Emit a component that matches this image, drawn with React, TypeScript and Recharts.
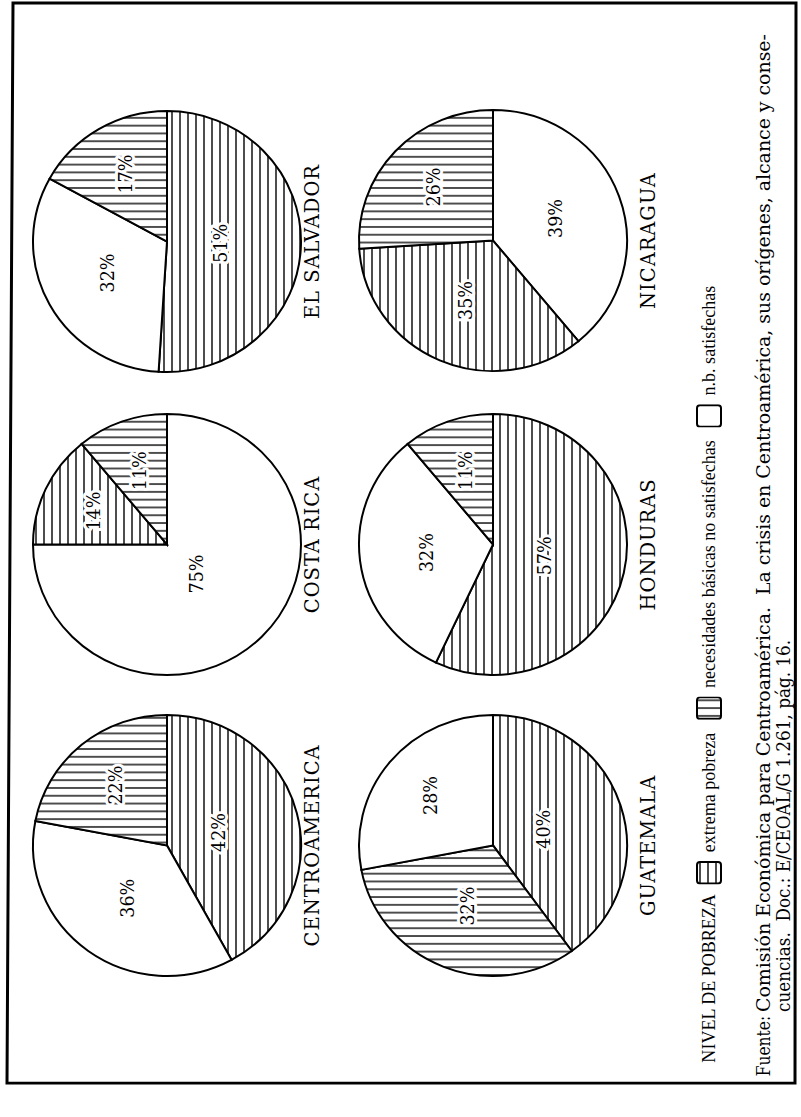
import React from 'react';
import { PieChart, Pie, Cell, Legend } from 'recharts';

// Landscape page (drawn upright, then turned -90deg to match the scanned sheet)
const W = 1117;
const H = 801;
const SQUEEZE = 0.974; // the scan is slightly compressed along its long side

// ---------- data ----------
const countries = ['CENTROAMERICA', 'COSTA RICA', 'EL SALVADOR', 'GUATEMALA', 'HONDURAS', 'NICARAGUA'];
const extremaPobreza = [42, 14, 51, 40, 57, 35];
const nbNoSatisfechas = [22, 11, 17, 32, 11, 26];
const nbSatisfechas = [36, 75, 32, 28, 32, 39];
// clockwise order of the slices from the 12 o'clock position of each pie
const sliceOrder: string[][] = [
  ['ext', 'sat', 'nbi'],
  ['sat', 'ext', 'nbi'],
  ['ext', 'sat', 'nbi'],
  ['ext', 'nbi', 'sat'],
  ['ext', 'sat', 'nbi'],
  ['sat', 'ext', 'nbi'],
];
const legendTitle = 'NIVEL DE POBREZA';
const legendKeys = ['ext', 'nbi', 'sat'];
const legendLabels = ['extrema pobreza', 'necesidades básicas no satisfechas', 'n.b. satisfechas'];
const sourceLead = 'Fuente:';
const sourceLine1 = 'Comisión Económica para Centroamérica.  La crisis en Centroamérica, sus orígenes, alcance y conse-';
const sourceLine2 = 'cuencias.  Doc.: E/CEOAL/G 1.261, pág. 16.';

// ---------- layout / style ----------
const FONT = '"DejaVu Serif", "Liberation Serif", serif';
const LEGEND_FONT = '"Liberation Serif", "DejaVu Serif", serif';
const R = 134;
const pieCenters: number[][] = [
  [249, 167], [558, 167], [869, 167],
  [249, 493], [558, 493], [870, 493],
];
const titleBaselines = [319, 319, 319, 655, 655, 655];
const fills: Record<string, string> = {
  ext: 'url(#hatchExt)',
  nbi: 'url(#hatchNbi)',
  sat: '#ffffff',
};
const LEGEND_TOP = 689;
const LEGEND_LEFT = 26;

const valueFor = (i: number, key: string) =>
  key === 'ext' ? extremaPobreza[i] : key === 'nbi' ? nbNoSatisfechas[i] : nbSatisfechas[i];

const pieData = countries.map((c, i) =>
  sliceOrder[i].map((k) => ({ key: k, name: legendLabels[legendKeys.indexOf(k)], value: valueFor(i, k) }))
);

const RAD = Math.PI / 180;
const renderLabel = (props: any) => {
  const { cx, cy, midAngle, outerRadius, percent, value } = props;
  const f = percent >= 0.7 ? 0.32 : percent >= 0.4 ? 0.4 : percent >= 0.3 ? 0.5 : 0.6;
  const x = cx + outerRadius * f * Math.cos(-midAngle * RAD);
  const y = cy + outerRadius * f * Math.sin(-midAngle * RAD);
  return (
    <text
      x={x}
      y={y}
      textAnchor="middle"
      dominantBaseline="central"
      fontFamily={FONT}
      fontSize={18}
      fill="#000"
      stroke="#fff"
      strokeWidth={6}
      strokeLinejoin="round"
      paintOrder="stroke"
    >
      {`${value}%`}
    </text>
  );
};

const LegendSwatch = ({ k }: { k: string }) => (
  <svg width={24} height={26} style={{ display: 'block', margin: '0 9px 0 10px' }}>
    <rect x={1} y={1} width={22} height={24} rx={3} fill={fills[k]} stroke="#000" strokeWidth={2} />
  </svg>
);

const LegendContent = () => (
  <div
    style={{
      display: 'flex',
      alignItems: 'center',
      height: 40,
      paddingLeft: LEGEND_LEFT,
      fontFamily: LEGEND_FONT,
      fontSize: 18.5,
      color: '#000',
      whiteSpace: 'nowrap',
      lineHeight: 1,
    }}
  >
    <span>{legendTitle}</span>
    {legendKeys.map((k, i) => (
      <React.Fragment key={k}>
        <span style={{ marginLeft: i === 0 ? 0 : 3 }}><LegendSwatch k={k} /></span>
        <span>{legendLabels[i]}</span>
      </React.Fragment>
    ))}
  </div>
);

export default function App() {
  return (
    <div style={{ position: 'absolute', left: 0, top: 0, width: 801, height: 1117, overflow: 'hidden', background: '#fff' }}>
      <div
        style={{
          position: 'absolute',
          left: 0,
          top: 0,
          width: W,
          height: H,
          transformOrigin: '0 0',
          transform: `translate(0px, ${W * SQUEEZE}px) rotate(-90deg) scale(${SQUEEZE}, 1)`,
          background: '#fff',
        }}
      >
        <PieChart width={W} height={H} margin={{ top: 0, right: 0, bottom: 0, left: 0 }}>
          <defs>
            <pattern id="hatchExt" patternUnits="userSpaceOnUse" width="8" height="8">
              <rect width="8" height="8" fill="#fff" />
              <line x1="0" y1="4" x2="8" y2="4" stroke="#000" strokeWidth="1.4" />
            </pattern>
            <pattern id="hatchNbi" patternUnits="userSpaceOnUse" width="8" height="8">
              <rect width="8" height="8" fill="#fff" />
              <line x1="4" y1="0" x2="4" y2="8" stroke="#000" strokeWidth="1.4" />
            </pattern>
          </defs>
          {pieData.map((data, i) => (
            <Pie
              key={countries[i]}
              data={data}
              dataKey="value"
              nameKey="name"
              cx={pieCenters[i][0]}
              cy={pieCenters[i][1]}
              outerRadius={R}
              innerRadius={0}
              startAngle={0}
              endAngle={-360}
              stroke="#000"
              strokeWidth={2}
              label={renderLabel}
              labelLine={false}
              isAnimationActive={false}
            >
              {data.map((d) => (
                <Cell key={d.key} fill={fills[d.key]} stroke="#000" strokeWidth={2} />
              ))}
            </Pie>
          ))}
          <Legend
            verticalAlign="bottom"
            content={() => <LegendContent />}
            wrapperStyle={{ left: 0, top: LEGEND_TOP, bottom: 'auto', width: W, height: 40 }}
          />
        </PieChart>
        <svg
          width={W}
          height={H}
          style={{ position: 'absolute', left: 0, top: 0, pointerEvents: 'none' }}
        >
          <polygon points="5,7 1114,13 1114,796 5,795" fill="none" stroke="#000" strokeWidth={3} />
          {countries.map((c, i) => (
            <text key={c} x={pieCenters[i][0]} y={titleBaselines[i]} textAnchor="middle"
              fontFamily={FONT} fontSize={20} letterSpacing={1} fill="#000">{c}</text>
          ))}
          <text x={12} y={770} fontFamily={FONT} fontSize={18} textLength={62}
            lengthAdjust="spacingAndGlyphs" fill="#000">{sourceLead}</text>
          <text x={78} y={770} fontFamily={FONT} fontSize={18} fill="#000" textLength={1004}
            lengthAdjust="spacingAndGlyphs" style={{ whiteSpace: 'pre' }}>{sourceLine1}</text>
          <text x={78} y={790} fontFamily={FONT} fontSize={18} fill="#000" textLength={382}
            lengthAdjust="spacingAndGlyphs" style={{ whiteSpace: 'pre' }}>{sourceLine2}</text>
        </svg>
      </div>
    </div>
  );
}
